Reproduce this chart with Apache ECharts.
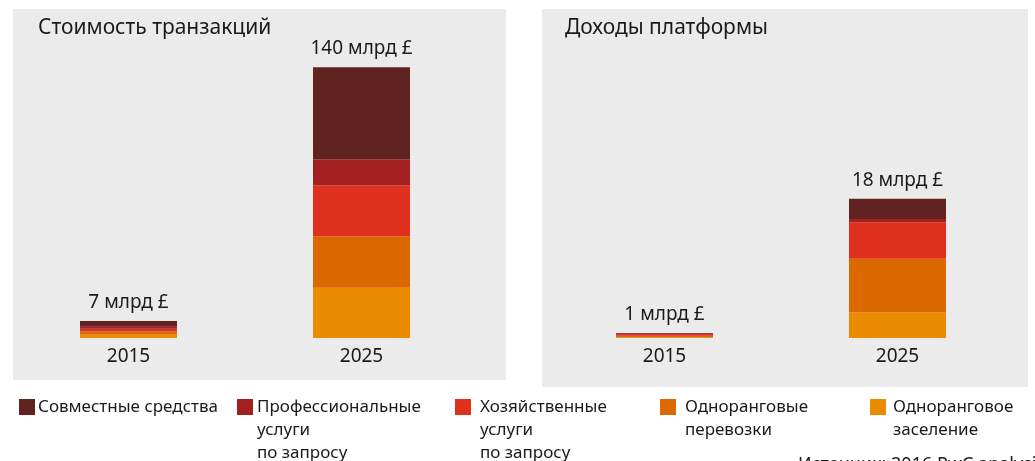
<!DOCTYPE html>
<html>
<head>
<meta charset="utf-8">
<script src="https://cdn.jsdelivr.net/npm/echarts@6/dist/echarts.min.js"></script>
<style>
  html, body { margin: 0; padding: 0; background: #fff; }
  #chart { width: 1035px; height: 461px; }
</style>
</head>
<body>
<div id="chart"></div>
<script>
// годы
var years = ['2015', '2025'];
// категории (порядок стека снизу вверх)
var segNames = ['Одноранговое заселение', 'Одноранговые перевозки', 'Хозяйственные услуги по запросу', 'Профессиональные услуги по запросу', 'Совместные средства'];
var segColors = ['#eb8c00', '#dc6900', '#e0301e', '#a32020', '#602320'];
// стоимость транзакций, млрд £
var txValues = [
  [1.8, 26],   // заселение
  [1.5, 26.5], // перевозки
  [1.5, 26.5], // хозяйственные
  [1.0, 13.5], // профессиональные
  [3.0, 47.5]  // совместные средства
];
var txTotals = ['7 млрд £', '140 млрд £'];
// доходы платформ, млрд £
var revValues = [
  [0.1, 3.3],
  [0.2, 6.9],
  [0.2, 4.7],
  [0.05, 0.4],
  [0.1, 2.6]
];
var revTotals = ['1 млрд £', '18 млрд £'];
// легенда слева направо (индексы в segNames)
var legendOrder = [4, 3, 2, 1, 0];
var legendText = ['Совместные средства', 'Профессиональные\nуслуги\nпо запросу', 'Хозяйственные\nуслуги\nпо запросу', 'Одноранговые\nперевозки', 'Одноранговое\nзаселение'];
var legendIconX = [19, 237, 455, 660, 870];
var legendTextX = [38, 257, 480, 685, 893];

var font = '"Noto Sans", "Open Sans", sans-serif';
var chart = echarts.init(document.getElementById('chart'));

function makeSeries(values, totals, axisIdx) {
  return values.map(function (vals, i) {
    var isTop = i === values.length - 1;
    return {
      name: segNames[i],
      type: 'bar',
      stack: 'st' + axisIdx,
      xAxisIndex: axisIdx,
      yAxisIndex: axisIdx,
      barWidth: 97,
      data: vals,
      itemStyle: { color: segColors[i] },
      label: {
        show: isTop,
        position: 'top',
        distance: 9,
        fontFamily: font,
        fontSize: 19,
        color: '#1a1a1a',
        formatter: function (p) { return totals[p.dataIndex]; }
      }
    };
  });
}

// легенда рисуется вручную: квадрат сверху, многострочный текст рядом
var legendGraphics = [];
legendOrder.forEach(function (idx, i) {
  legendGraphics.push({
    type: 'rect',
    shape: { x: legendIconX[i], y: 399, width: 16, height: 16 },
    style: { fill: segColors[idx] }
  });
  legendGraphics.push({
    type: 'text',
    left: legendTextX[i],
    top: 396,
    style: { text: legendText[i], font: '17px ' + font, lineHeight: 23, fill: '#1a1a1a' }
  });
});

var axisCommon = {
  type: 'category',
  data: years,
  axisLine: { show: false },
  axisTick: { show: false },
  axisLabel: { fontFamily: font, fontSize: 19, color: '#1a1a1a', margin: 9 }
};
var yCommon = { type: 'value', min: 0, show: false, splitLine: { show: false } };

var option = {
  backgroundColor: '#ffffff',
  animation: false,
  graphic: [
    { type: 'rect', z: -10, shape: { x: 13, y: 9, width: 493, height: 371 }, style: { fill: '#ebebeb' } },
    { type: 'rect', z: -10, shape: { x: 542, y: 9, width: 486, height: 378 }, style: { fill: '#ebebeb' } },
    { type: 'text', left: 38, top: 18, style: { text: 'Стоимость транзакций', font: '21px ' + font, fill: '#1a1a1a' } },
    { type: 'text', left: 565, top: 18, style: { text: 'Доходы платформы', font: '21px ' + font, fill: '#1a1a1a' } },
    { type: 'text', left: 798, top: 456, style: { text: 'Источник: 2016 PwC analysis', font: '18px ' + font, fill: '#1a1a1a' } }
  ].concat(legendGraphics),
  grid: [
    { left: 12, width: 466, top: 48, bottom: 123 },
    { left: 548, width: 466, top: 48, bottom: 123 }
  ],
  xAxis: [
    Object.assign({ gridIndex: 0 }, axisCommon),
    Object.assign({ gridIndex: 1 }, axisCommon)
  ],
  yAxis: [
    Object.assign({ gridIndex: 0, max: 150 }, yCommon),
    Object.assign({ gridIndex: 1, max: 37.3 }, yCommon)
  ],
  series: makeSeries(txValues, txTotals, 0).concat(makeSeries(revValues, revTotals, 1))
};
chart.setOption(option);
</script>
</body>
</html>
